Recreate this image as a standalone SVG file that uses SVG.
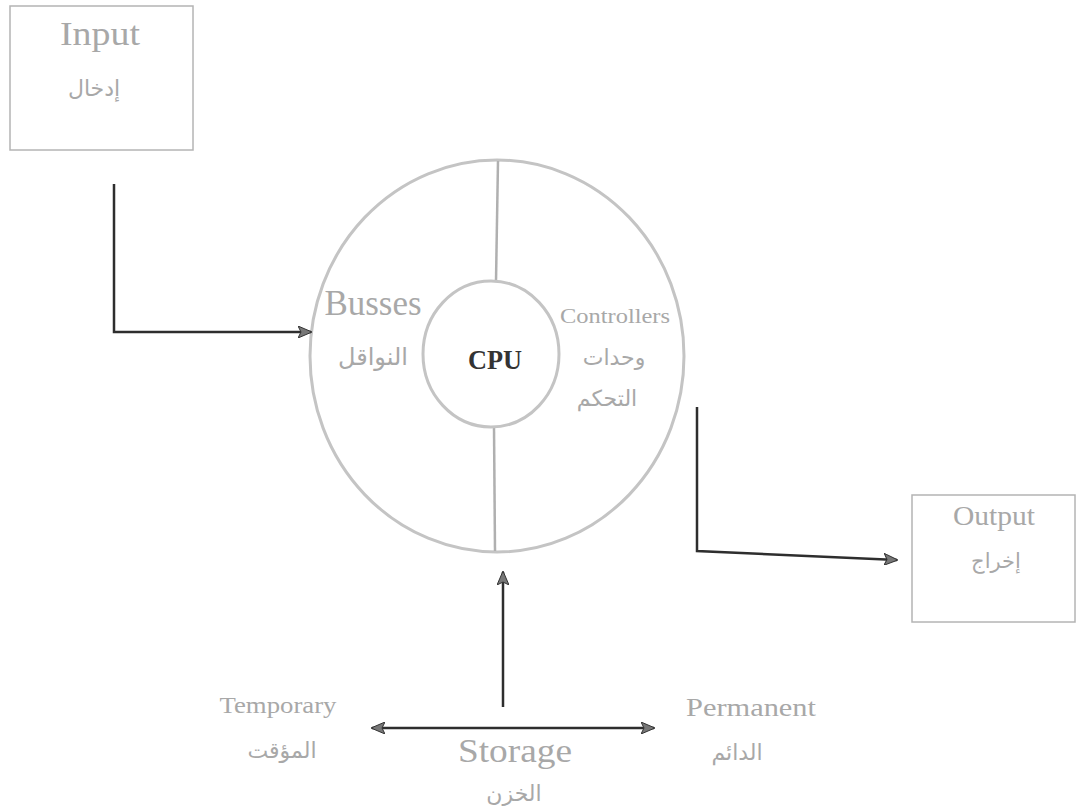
<svg xmlns="http://www.w3.org/2000/svg" width="1080" height="808" viewBox="0 0 1080 808">
<defs>
<style>
.box{fill:none;stroke:#b4b4b4;stroke-width:1.5}
.ring{fill:none;stroke:#c4c4c4;stroke-width:3}
.div{stroke:#b0b0b0;stroke-width:2.5}
.conn{fill:none;stroke:#2e2e2e;stroke-width:2.5}
.t{font-family:"Liberation Serif","DejaVu Serif",serif;fill:#a8a8a8;text-anchor:middle}
.ar{font-family:"DejaVu Sans","Noto Sans",sans-serif;fill:#a8a8a8;text-anchor:middle}
</style>
<marker id="ah" viewBox="0 0 14 12" refX="13" refY="6" markerWidth="14" markerHeight="12" markerUnits="userSpaceOnUse" orient="auto-start-reverse">
<path d="M0,0 L14,6 L0,12 L3,6 z" fill="#777" stroke="#333" stroke-width="1"/>
</marker>
</defs>
<rect width="1080" height="808" fill="#fff"/>
<g id="input">
<rect class="box" x="10" y="6" width="183" height="144"/>
<text class="t" x="100" y="45" font-size="34" textLength="80" lengthAdjust="spacingAndGlyphs">Input</text>
<text class="ar" x="94" y="96" font-size="22">إدخال</text>
</g>
<g id="cpu-unit">
<ellipse class="ring" cx="497" cy="356" rx="187" ry="196"/>
<line class="div" x1="498" y1="161" x2="496" y2="281"/>
<line class="div" x1="494" y1="427" x2="495" y2="551"/>
<ellipse class="ring" cx="491" cy="354" rx="68" ry="73"/>
<text class="t" x="373" y="315" font-size="35" textLength="97" lengthAdjust="spacingAndGlyphs">Busses</text>
<text class="ar" x="373" y="365" font-size="24">النواقل</text>
<text x="495" y="369" font-family="Liberation Serif,serif" font-size="27" font-weight="bold" fill="#333" text-anchor="middle" textLength="54" lengthAdjust="spacingAndGlyphs">CPU</text>
<text class="t" x="615" y="323" font-size="22" textLength="110" lengthAdjust="spacingAndGlyphs">Controllers</text>
<text class="ar" x="614" y="365" font-size="22">وحدات</text>
<text class="ar" x="607" y="406" font-size="22">التحكم</text>
</g>
<g id="output">
<rect class="box" x="912" y="495" width="163" height="127"/>
<text class="t" x="994" y="525" font-size="28" textLength="82" lengthAdjust="spacingAndGlyphs">Output</text>
<text class="ar" x="996" y="568" font-size="21">إخراج</text>
</g>
<g id="storage">
<text class="t" x="278" y="713" font-size="24" textLength="117" lengthAdjust="spacingAndGlyphs">Temporary</text>
<text class="ar" x="282" y="758" font-size="22">المؤقت</text>
<text class="t" x="515" y="762" font-size="34" textLength="114" lengthAdjust="spacingAndGlyphs">Storage</text>
<text class="ar" x="514" y="801" font-size="22">الخزن</text>
<text class="t" x="751" y="716" font-size="26" textLength="130" lengthAdjust="spacingAndGlyphs">Permanent</text>
<text class="ar" x="737" y="760" font-size="22">الدائم</text>
</g>
<g id="connectors">
<path class="conn" d="M114,184 L114,332 L311,332" marker-end="url(#ah)"/>
<path class="conn" d="M697,407 L697,551 L897,560" marker-end="url(#ah)"/>
<path class="conn" d="M503,707 L503,572" marker-end="url(#ah)"/>
<path class="conn" d="M372,728 L654,728" marker-start="url(#ah)" marker-end="url(#ah)"/>
</g>
</svg>
